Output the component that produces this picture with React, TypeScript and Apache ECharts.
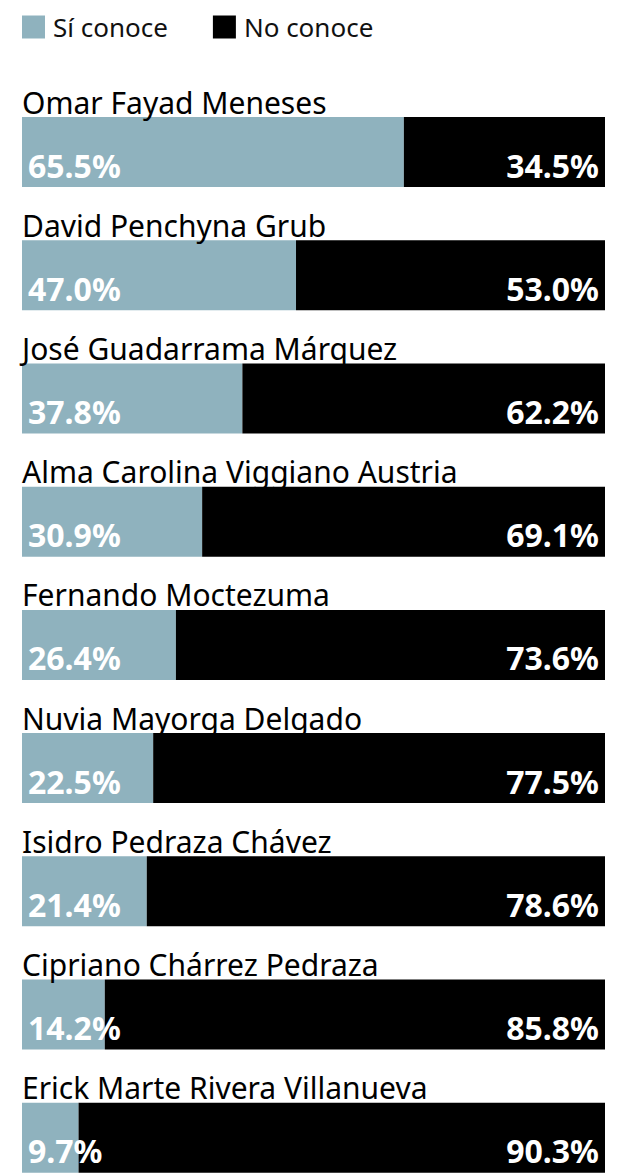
import React, { useEffect, useRef } from "react";
import * as echarts from "echarts";

const names = [
  "Omar Fayad Meneses",
  "David Penchyna Grub",
  "José Guadarrama Márquez",
  "Alma Carolina Viggiano Austria",
  "Fernando Moctezuma",
  "Nuvia Mayorga Delgado",
  "Isidro Pedraza Chávez",
  "Cipriano Chárrez Pedraza",
  "Erick Marte Rivera Villanueva",
];
const siConoce = [65.5, 47.0, 37.8, 30.9, 26.4, 22.5, 21.4, 14.2, 9.7];
const noConoce = [34.5, 53.0, 62.2, 69.1, 73.6, 77.5, 78.6, 85.8, 90.3];
const seriesNames = ["Sí conoce", "No conoce"];

const FONT = "'Noto Sans', sans-serif";

export default function App() {
  const ref = useRef<HTMLDivElement>(null);
  useEffect(() => {
    document.body.style.margin = "0";
    document.body.style.overflow = "hidden";
    const chart = echarts.init(ref.current!, null, { renderer: "svg" });
    const valLabel = (pos: string) => ({
      show: true,
      position: pos,
      distance: 6,
      color: "#fff",
      fontWeight: "bold",
      fontSize: 32,
      fontFamily: FONT,
      formatter: (p: any) => p.value.toFixed(1) + "%",
    });
    chart.setOption({
      animation: false,
      textStyle: { fontFamily: FONT },
      legend: {
        left: 17,
        top: 9,
        itemWidth: 23,
        itemHeight: 23,
        itemGap: 45,
        icon: "rect",
        textStyle: { fontSize: 26, color: "#111", fontFamily: FONT, padding: [0, 0, 0, 3] },
        data: seriesNames,
      },
      grid: { left: 22, right: 15, top: 90.4, height: 1109, containLabel: false },
      xAxis: { type: "value", min: 0, max: 100, show: false },
      yAxis: {
        type: "category",
        inverse: true,
        data: names,
        z: 10,
        axisLine: { show: false },
        axisTick: { show: false },
        splitLine: { show: false },
        axisLabel: {
          inside: true,
          interval: 0,
          margin: 0,
          align: "left",
          verticalAlign: "bottom",
          formatter: (v: string) => `{n|${v}}\n{s|}`,
          rich: {
            n: { fontSize: 30, lineHeight: 36, color: "#000", fontFamily: FONT },
            s: { fontSize: 10, lineHeight: 32 },
          },
        },
      },
      series: [
        {
          name: seriesNames[0],
          type: "bar",
          stack: "t",
          barWidth: 70,
          data: siConoce,
          itemStyle: { color: "#8fb2be" },
          label: valLabel("insideBottomLeft"),
        },
        {
          name: seriesNames[1],
          type: "bar",
          stack: "t",
          barWidth: 70,
          data: noConoce,
          itemStyle: { color: "#000" },
          label: valLabel("insideBottomRight"),
        },
      ],
    });
    return () => chart.dispose();
  }, []);
  return (
    <div style={{ width: 620, height: 1174, overflow: "hidden" }}>
      <div ref={ref} style={{ width: 620, height: 1200 }} />
    </div>
  );
}
